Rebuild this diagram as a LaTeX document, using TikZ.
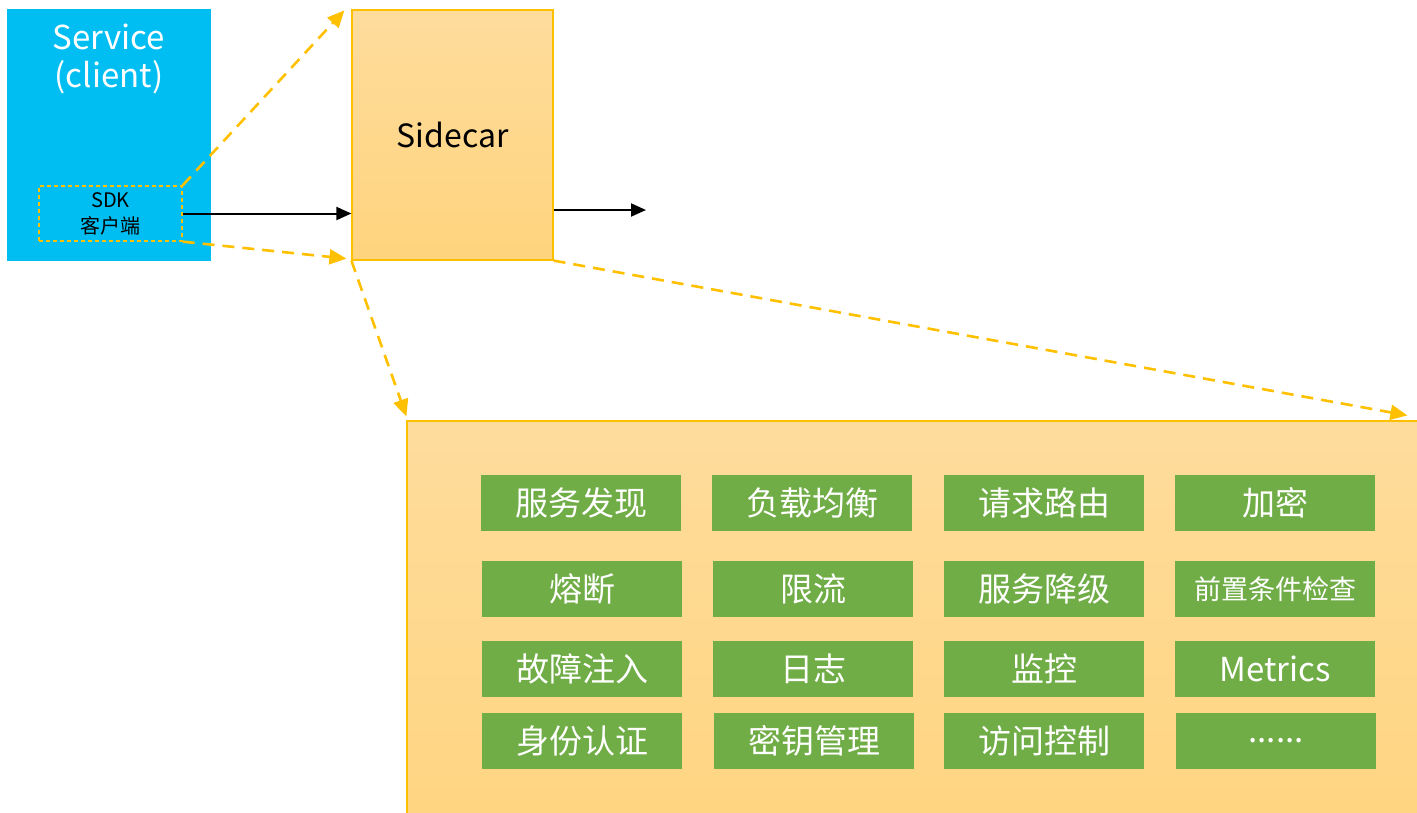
\documentclass[tikz,border=0pt]{standalone}
\usepackage{fontspec}
\setmainfont{Noto Sans CJK SC}
\usepackage{xcolor}
\usetikzlibrary{shapes,arrows.meta,positioning,calc}

\definecolor{svcblue}{HTML}{00BEF2}
\definecolor{featgreen}{HTML}{70AD47}
\definecolor{linkorange}{HTML}{FFC000}
\definecolor{cartop}{HTML}{FEDC9C}
\definecolor{carbot}{HTML}{FFD47E}

\begin{document}
\begin{tikzpicture}[x=1pt,y=-1pt,
  feat/.style={rectangle, fill=featgreen, text=white, inner sep=0pt,
    minimum width=200pt, minimum height=56pt, font=\fontsize{33}{33}\selectfont},
  carbox/.style={rectangle, draw=linkorange, line width=1.2pt, inner sep=0pt,
    top color=cartop, bottom color=carbot},
  link/.style={draw=linkorange, line width=2.6pt, dash pattern=on 12pt off 8pt,
    -{Triangle[length=17pt,width=15pt,fill=linkorange]}},
  call/.style={draw=black, line width=2pt, -{Triangle[length=15pt,width=13pt]}}]
\useasboundingbox (0,0) rectangle (1417,812);

% service with its sdk
\node[rectangle, fill=svcblue, minimum width=204pt, minimum height=252pt, inner sep=0pt] (svc) at (109,135) {};
\node[text=white, align=center, font=\fontsize{33}{38}\selectfont] (svclabel) at (109,59) {Service\\(client)};
\node[rectangle, draw=linkorange, dash pattern=on 4pt off 3pt, line width=1.3pt, minimum width=143pt, minimum height=55pt,
  inner sep=0pt, align=center, font=\fontsize{20}{26}\selectfont] (sdk) at (110.5,213.5) {SDK\\客户端};

% sidecar
\node[carbox, minimum width=201pt, minimum height=250pt, font=\fontsize{32}{32}\selectfont] (sidecar) at (452.5,135) {Sidecar};
\coordinate (out) at (646,210);

% the big panel, cut by the page edge
\node[carbox, minimum width=1043pt, minimum height=449pt] (panel) at (928.5,645.5) {};

\draw[call] (sdk.east) -- (sidecar.west |- sdk.east);
\draw[call] (sidecar.east |- out) -- (out);

\draw[link] (sdk.north east) -- ($(sidecar.north west)+(-7,1)$);
\draw[link] (sdk.south east) -- ($(sidecar.south west)+(-5,-2)$);
\draw[link] (sidecar.south west) -- ($(panel.north west)+(0,-4)$);
\draw[link] (sidecar.south east) -- ($(panel.north west)+(1001,-5)$);

% features
\node[feat] (disc) at (581,503) {服务发现};
\node[feat] (lb) at (812,503) {负载均衡};
\node[feat] (route) at (1044,503) {请求路由};
\node[feat] (enc) at (1275,503) {加密};

\node[feat] (cb) at (582,589) {熔断};
\node[feat] (rl) at (813,589) {限流};
\node[feat] (degr) at (1044,589) {服务降级};
\node[feat, font=\fontsize{27}{27}\selectfont] (precheck) at (1275,589) {前置条件检查};

\node[feat] (fault) at (582,669) {故障注入};
\node[feat] (log) at (813,669) {日志};
\node[feat] (mon) at (1044,669) {监控};
\node[feat] (metrics) at (1275,669) {Metrics};

\node[feat] (authn) at (582,741) {身份认证};
\node[feat] (keymgmt) at (814,741) {密钥管理};
\node[feat] (acl) at (1044,741) {访问控制};
\node[feat] (more) at (1276,741) {......};
\end{tikzpicture}
\end{document}
